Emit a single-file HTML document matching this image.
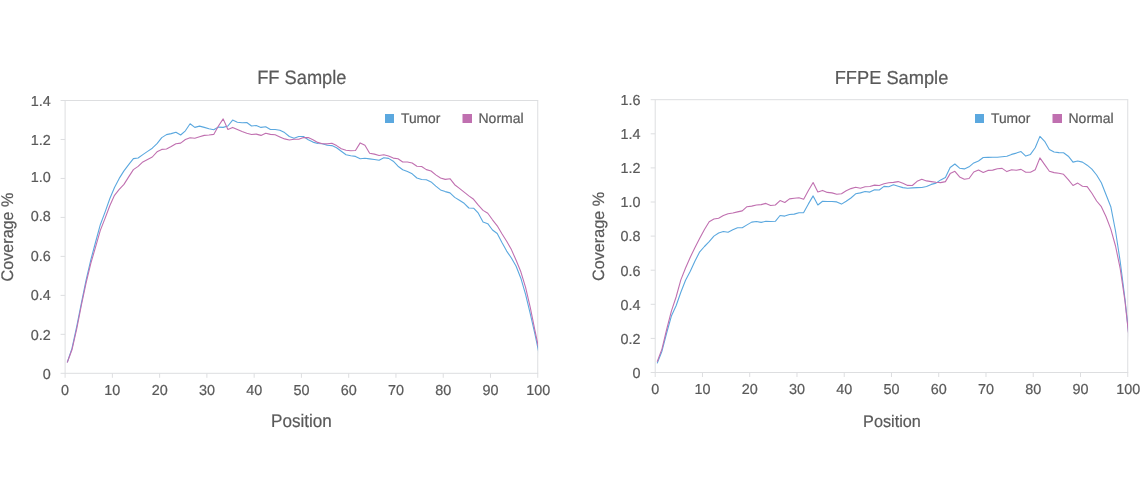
<!DOCTYPE html>
<html><head><meta charset="utf-8"><title>Coverage</title>
<style>
html,body{margin:0;padding:0;background:#fff;}
body{width:1140px;height:500px;overflow:hidden;font-family:"Liberation Sans",sans-serif;}
svg{display:block;}
text{font-family:"Liberation Sans",sans-serif;fill:#595959;stroke:#595959;stroke-width:0.2px;text-rendering:geometricPrecision;}
.tk{font-size:14.4px;}
.ti{font-size:19.4px;}
.at{font-size:18.3px;}
.ay{font-size:16.8px;}
.lg{font-size:14px;}
</style></head><body>
<svg width="1140" height="500" viewBox="0 0 1140 500">
<rect width="1140" height="500" fill="#ffffff"/>
<clipPath id="c1"><rect x="65.1" y="95.5" width="472.95" height="277.80"/></clipPath>
<path d="M60.599999999999994 100.5 H538.25 M60.599999999999994 373.3 H538.25 M60.599999999999994 334.33 H65.1 M60.599999999999994 295.36 H65.1 M60.599999999999994 256.39 H65.1 M60.599999999999994 217.41 H65.1 M60.599999999999994 178.44 H65.1 M60.599999999999994 139.47 H65.1 M65.1 100.5 V377.8 M537.75 100.5 V377.8 M112.36 373.3 V377.8 M159.63 373.3 V377.8 M206.89 373.3 V377.8 M254.16 373.3 V377.8 M301.42 373.3 V377.8 M348.69 373.3 V377.8 M395.95 373.3 V377.8 M443.22 373.3 V377.8 M490.48 373.3 V377.8" fill="none" stroke="#dddee0" stroke-width="1"/>
<text transform="translate(50.70 379.20)" text-anchor="end" class="tk">0</text>
<text transform="translate(50.70 340.33)" text-anchor="end" class="tk">0.2</text>
<text transform="translate(50.70 300.16)" text-anchor="end" class="tk">0.4</text>
<text transform="translate(50.70 261.09)" text-anchor="end" class="tk">0.6</text>
<text transform="translate(50.70 221.31)" text-anchor="end" class="tk">0.8</text>
<text transform="translate(50.70 182.44)" text-anchor="end" class="tk">1.0</text>
<text transform="translate(50.70 144.57)" text-anchor="end" class="tk">1.2</text>
<text transform="translate(50.70 105.60)" text-anchor="end" class="tk">1.4</text>
<text transform="translate(65.10 394.60)" text-anchor="middle" class="tk">0</text>
<text transform="translate(112.36 394.60)" text-anchor="middle" class="tk">10</text>
<text transform="translate(159.63 394.60)" text-anchor="middle" class="tk">20</text>
<text transform="translate(206.89 394.60)" text-anchor="middle" class="tk">30</text>
<text transform="translate(254.16 394.60)" text-anchor="middle" class="tk">40</text>
<text transform="translate(301.42 394.60)" text-anchor="middle" class="tk">50</text>
<text transform="translate(348.69 394.60)" text-anchor="middle" class="tk">60</text>
<text transform="translate(395.95 394.60)" text-anchor="middle" class="tk">70</text>
<text transform="translate(443.22 394.60)" text-anchor="middle" class="tk">80</text>
<text transform="translate(490.48 394.60)" text-anchor="middle" class="tk">90</text>
<text transform="translate(538.25 394.60)" text-anchor="middle" class="tk">100</text>
<g clip-path="url(#c1)" fill="none" stroke-width="1.1" stroke-linejoin="round">
<path d="M67.25 362.40 L71.97 348.40 L76.70 326.60 L81.42 302.80 L86.15 279.90 L90.88 259.60 L95.60 242.00 L100.32 224.70 L105.05 212.10 L109.78 198.80 L114.50 187.50 L119.22 178.40 L123.95 170.90 L128.68 164.70 L133.40 158.60 L138.12 158.00 L142.85 154.60 L147.57 151.40 L152.30 148.20 L157.02 143.70 L161.75 137.60 L166.47 134.60 L171.20 133.60 L175.93 132.20 L180.65 135.00 L185.38 130.80 L190.10 123.75 L194.82 127.40 L199.55 126.10 L204.27 127.40 L209.00 128.70 L213.72 129.80 L218.45 127.10 L223.17 127.40 L227.90 126.00 L232.62 120.10 L237.35 122.20 L242.07 122.70 L246.80 122.50 L251.52 126.00 L256.25 125.50 L260.98 127.40 L265.70 126.70 L270.42 129.50 L275.15 129.50 L279.88 130.20 L284.60 132.60 L289.32 136.50 L294.05 138.20 L298.77 136.50 L303.50 136.50 L308.23 139.70 L312.95 142.10 L317.67 143.50 L322.40 143.80 L327.12 145.20 L331.85 145.60 L336.57 147.70 L341.30 151.20 L346.02 154.70 L350.75 155.70 L355.47 156.40 L360.20 158.70 L364.92 158.20 L369.65 158.90 L374.38 159.50 L379.10 160.20 L383.82 157.80 L388.55 158.40 L393.27 161.20 L398.00 166.20 L402.72 169.70 L407.45 171.40 L412.17 173.80 L416.90 178.00 L421.62 179.50 L426.35 179.80 L431.07 181.90 L435.80 186.10 L440.52 189.90 L445.25 191.60 L449.97 192.90 L454.70 197.40 L459.42 200.20 L464.15 203.30 L468.87 208.00 L473.60 208.20 L478.32 213.20 L483.05 222.00 L487.77 223.70 L492.50 230.00 L497.22 233.50 L501.95 242.60 L506.67 251.10 L511.40 258.00 L516.12 266.20 L520.85 278.20 L525.58 294.30 L530.30 313.90 L535.02 334.40 L539.75 357.00" stroke="#5ba8df"/>
<path d="M67.25 362.50 L71.97 349.80 L76.70 329.00 L81.42 305.00 L86.15 282.70 L90.88 263.10 L95.60 246.90 L100.32 230.40 L105.05 218.40 L109.78 205.80 L114.50 195.30 L119.22 189.30 L123.95 184.40 L128.68 176.90 L133.40 169.60 L138.12 166.40 L142.85 161.90 L147.57 159.40 L152.30 157.00 L157.02 151.80 L161.75 149.40 L166.47 149.00 L171.20 146.50 L175.93 143.70 L180.65 143.10 L185.38 139.50 L190.10 137.80 L194.82 138.20 L199.55 136.80 L204.27 135.40 L209.00 135.00 L213.72 134.40 L218.45 126.00 L223.17 118.90 L227.90 129.50 L232.62 127.40 L237.35 129.50 L242.07 131.60 L246.80 133.30 L251.52 134.50 L256.25 134.10 L260.98 135.40 L265.70 133.30 L270.42 134.40 L275.15 134.80 L279.88 136.90 L284.60 138.90 L289.32 140.00 L294.05 139.30 L298.77 139.30 L303.50 137.60 L308.23 137.60 L312.95 139.70 L317.67 142.40 L322.40 143.80 L327.12 143.90 L331.85 143.20 L336.57 145.60 L341.30 148.70 L346.02 150.20 L350.75 150.80 L355.47 150.50 L360.20 142.90 L364.92 145.30 L369.65 153.20 L374.38 154.10 L379.10 155.50 L383.82 154.70 L388.55 156.00 L393.27 158.10 L398.00 158.80 L402.72 162.00 L407.45 162.00 L412.17 163.00 L416.90 166.20 L421.62 166.50 L426.35 169.60 L431.07 171.00 L435.80 174.90 L440.52 178.00 L445.25 179.40 L449.97 178.70 L454.70 184.70 L459.42 188.40 L464.15 192.10 L468.87 195.90 L473.60 199.30 L478.32 205.20 L483.05 210.40 L487.77 213.20 L492.50 219.80 L497.22 225.80 L501.95 233.80 L506.67 241.20 L511.40 249.60 L516.12 260.30 L520.85 271.80 L525.58 287.30 L530.30 307.60 L535.02 330.80 L539.75 353.30" stroke="#c070b0"/>
</g>
<text transform="translate(301.80 83.90) scale(0.942 1)" text-anchor="middle" class="ti" style="font-size:19.4px">FF Sample</text>
<text transform="translate(301.45 426.90) scale(0.935 1)" text-anchor="middle" class="at" style="font-size:18.3px">Position</text>
<text transform="translate(12.70 237.00) rotate(-90) scale(0.962 1)" text-anchor="middle" class="ay" style="font-size:16.8px">Coverage %</text>
<rect x="385" y="114" width="9" height="9" fill="#5ba8df"/>
<text transform="translate(401.00 123.00) scale(0.985 1)" text-anchor="start" class="lg">Tumor</text>
<rect x="462.5" y="114" width="9.5" height="9" fill="#c070b0"/>
<text transform="translate(478.50 123.00)" text-anchor="start" class="lg">Normal</text>
<clipPath id="c2"><rect x="655.2" y="94.7" width="472.85" height="277.80"/></clipPath>
<path d="M650.7 99.7 H1128.25 M650.7 372.5 H1128.25 M650.7 338.40 H655.2 M650.7 304.30 H655.2 M650.7 270.20 H655.2 M650.7 236.10 H655.2 M650.7 202.00 H655.2 M650.7 167.90 H655.2 M650.7 133.80 H655.2 M655.2 99.7 V377.0 M1127.75 99.7 V377.0 M702.46 372.5 V377.0 M749.71 372.5 V377.0 M796.97 372.5 V377.0 M844.22 372.5 V377.0 M891.48 372.5 V377.0 M938.73 372.5 V377.0 M985.99 372.5 V377.0 M1033.24 372.5 V377.0 M1080.49 372.5 V377.0" fill="none" stroke="#dddee0" stroke-width="1"/>
<text transform="translate(640.40 377.60)" text-anchor="end" class="tk">0</text>
<text transform="translate(640.40 343.50)" text-anchor="end" class="tk">0.2</text>
<text transform="translate(640.40 309.80)" text-anchor="end" class="tk">0.4</text>
<text transform="translate(640.40 275.70)" text-anchor="end" class="tk">0.6</text>
<text transform="translate(640.40 240.80)" text-anchor="end" class="tk">0.8</text>
<text transform="translate(640.40 206.80)" text-anchor="end" class="tk">1.0</text>
<text transform="translate(640.40 173.30)" text-anchor="end" class="tk">1.2</text>
<text transform="translate(640.40 138.90)" text-anchor="end" class="tk">1.4</text>
<text transform="translate(640.40 104.70)" text-anchor="end" class="tk">1.6</text>
<text transform="translate(655.20 393.80)" text-anchor="middle" class="tk">0</text>
<text transform="translate(702.46 393.80)" text-anchor="middle" class="tk">10</text>
<text transform="translate(749.71 393.80)" text-anchor="middle" class="tk">20</text>
<text transform="translate(796.97 393.80)" text-anchor="middle" class="tk">30</text>
<text transform="translate(844.22 393.80)" text-anchor="middle" class="tk">40</text>
<text transform="translate(891.48 393.80)" text-anchor="middle" class="tk">50</text>
<text transform="translate(938.73 393.80)" text-anchor="middle" class="tk">60</text>
<text transform="translate(985.99 393.80)" text-anchor="middle" class="tk">70</text>
<text transform="translate(1033.24 393.80)" text-anchor="middle" class="tk">80</text>
<text transform="translate(1080.49 393.80)" text-anchor="middle" class="tk">90</text>
<text transform="translate(1128.25 393.80)" text-anchor="middle" class="tk">100</text>
<g clip-path="url(#c2)" fill="none" stroke-width="1.1" stroke-linejoin="round">
<path d="M657.20 363.40 L661.93 351.20 L666.65 333.00 L671.38 316.10 L676.10 305.70 L680.83 292.30 L685.55 280.20 L690.28 271.20 L695.00 261.00 L699.73 251.80 L704.45 246.50 L709.18 241.70 L713.90 236.10 L718.62 233.00 L723.35 231.50 L728.08 232.20 L732.80 229.80 L737.53 227.70 L742.25 227.70 L746.98 224.90 L751.70 222.10 L756.43 221.50 L761.15 222.40 L765.88 221.30 L770.60 221.50 L775.33 221.30 L780.05 215.50 L784.78 216.10 L789.50 214.50 L794.23 214.10 L798.95 212.70 L803.68 212.60 L808.40 203.90 L813.12 195.90 L817.85 205.00 L822.58 201.30 L827.30 201.50 L832.03 201.50 L836.75 201.90 L841.48 204.10 L846.20 201.20 L850.93 198.00 L855.65 193.80 L860.38 192.90 L865.10 191.50 L869.83 192.10 L874.55 189.70 L879.28 190.00 L884.00 186.40 L888.73 186.80 L893.45 184.70 L898.18 186.20 L902.90 187.60 L907.62 188.30 L912.35 187.90 L917.08 187.60 L921.80 187.50 L926.53 186.50 L931.25 184.40 L935.98 183.10 L940.70 179.90 L945.42 177.40 L950.15 167.50 L954.88 164.00 L959.60 168.20 L964.33 168.90 L969.05 166.80 L973.78 162.90 L978.50 161.00 L983.23 157.50 L987.95 157.40 L992.67 157.30 L997.40 157.30 L1002.12 156.80 L1006.85 156.20 L1011.58 154.40 L1016.30 153.10 L1021.03 151.60 L1025.75 156.10 L1030.47 154.40 L1035.20 147.80 L1039.92 136.40 L1044.65 141.30 L1049.38 149.50 L1054.10 152.00 L1058.83 152.60 L1063.55 152.70 L1068.28 156.20 L1073.00 162.10 L1077.72 161.00 L1082.45 162.10 L1087.17 165.20 L1091.90 169.10 L1096.62 175.00 L1101.35 182.80 L1106.08 194.70 L1110.80 206.70 L1115.53 231.00 L1120.25 261.80 L1124.97 299.00 L1129.70 343.00" stroke="#5ba8df"/>
<path d="M657.20 361.75 L661.93 349.10 L666.65 329.50 L671.38 311.20 L676.10 297.00 L680.83 279.90 L685.55 268.00 L690.28 257.20 L695.00 247.50 L699.73 238.30 L704.45 229.50 L709.18 221.80 L713.90 219.00 L718.62 218.20 L723.35 215.50 L728.08 213.70 L732.80 213.00 L737.53 211.90 L742.25 210.90 L746.98 206.70 L751.70 206.10 L756.43 205.00 L761.15 204.60 L765.88 203.40 L770.60 205.50 L775.33 205.00 L780.05 200.60 L784.78 202.50 L789.50 198.90 L794.23 198.20 L798.95 197.70 L803.68 199.20 L808.40 190.50 L813.12 182.50 L817.85 191.90 L822.58 190.40 L827.30 192.40 L832.03 192.90 L836.75 194.30 L841.48 193.70 L846.20 190.70 L850.93 188.60 L855.65 187.30 L860.38 188.30 L865.10 186.80 L869.83 186.50 L874.55 185.10 L879.28 185.50 L884.00 183.70 L888.73 182.70 L893.45 182.40 L898.18 181.60 L902.90 183.30 L907.62 185.40 L912.35 185.50 L917.08 181.30 L921.80 179.20 L926.53 180.90 L931.25 181.60 L935.98 182.30 L940.70 182.60 L945.42 181.60 L950.15 173.60 L954.88 171.30 L959.60 176.90 L964.33 179.20 L969.05 178.50 L973.78 172.00 L978.50 170.10 L983.23 172.50 L987.95 170.40 L992.67 170.10 L997.40 168.70 L1002.12 168.40 L1006.85 171.60 L1011.58 169.70 L1016.30 170.20 L1021.03 169.40 L1025.75 172.20 L1030.47 172.20 L1035.20 169.80 L1039.92 157.90 L1044.65 164.60 L1049.38 171.20 L1054.10 172.60 L1058.83 173.30 L1063.55 174.30 L1068.28 179.70 L1073.00 185.50 L1077.72 183.10 L1082.45 186.20 L1087.17 186.60 L1091.90 193.30 L1096.62 201.00 L1101.35 206.70 L1106.08 216.80 L1110.80 229.10 L1115.53 246.00 L1120.25 268.90 L1124.97 301.10 L1129.70 344.00" stroke="#c070b0"/>
</g>
<text transform="translate(891.50 83.90) scale(0.972 1)" text-anchor="middle" class="ti" style="font-size:18.8px">FFPE Sample</text>
<text transform="translate(891.95 426.90) scale(0.962 1)" text-anchor="middle" class="at" style="font-size:16.9px">Position</text>
<text transform="translate(603.60 236.50) rotate(-90) scale(0.987 1)" text-anchor="middle" class="ay" style="font-size:16.4px">Coverage %</text>
<rect x="975" y="114" width="9" height="9" fill="#5ba8df"/>
<text transform="translate(991.00 123.00) scale(0.985 1)" text-anchor="start" class="lg">Tumor</text>
<rect x="1052.5" y="114" width="9.5" height="9" fill="#c070b0"/>
<text transform="translate(1068.50 123.00)" text-anchor="start" class="lg">Normal</text>
</svg>
</body></html>
